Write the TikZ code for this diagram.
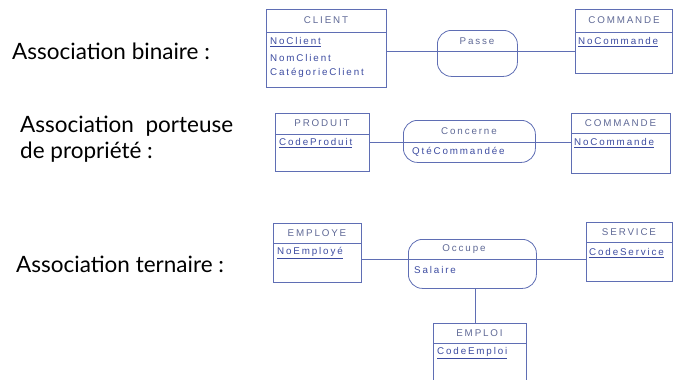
\documentclass[tikz,border=0pt]{standalone}
\usepackage{fontspec}
\setmainfont{Lato}
\newfontfamily\dg[LetterSpace=19]{Liberation Sans}
\usetikzlibrary{calc}
\definecolor{ln}{RGB}{95,110,180}
\definecolor{tx}{RGB}{60,75,160}
\definecolor{tt}{RGB}{95,105,150}
\begin{document}
\begin{tikzpicture}[x=1pt,y=-1pt,
  ent/.style={draw=ln, line width=0.8pt, anchor=north west, inner sep=0pt},
  asso/.style={draw=ln, line width=0.8pt, anchor=north west, inner sep=0pt, rounded corners=14pt},
  sepline/.style={draw=ln, line width=0.8pt},
  conn/.style={draw=ln, line width=0.8pt},
  ttl/.style={text=tt, font=\dg\fontsize{9.8}{10}\selectfont, inner sep=0pt},
  attr/.style={text=tx, font=\dg\fontsize{9.8}{10}\selectfont, inner sep=0pt, anchor=west},
  lbl/.style={text=black, font=\fontsize{22.5}{26}\selectfont, inner sep=0pt, anchor=west, align=left}]
\useasboundingbox (0,0) rectangle (675,380);

% left labels
\node[lbl] (l1) at (12,51) {Association binaire :};
\node[lbl] (l2) at (20,139) {Association\ \ porteuse\\de propriété :};
\node[lbl] (l3) at (16,264) {Association ternaire :};

% ---- row 1
\node[ent, minimum width=120, minimum height=78] (client) at (266,9) {};
\draw[sepline] (client.west |- 0,32) -- (client.east |- 0,32);
\node[ttl] (client-t) at (326,20.5) {CLIENT};
\node[attr] (client-a1) at (270,42) {\underline{NoClient}};
\node[attr] (client-a2) at (270,58) {NomClient};
\node[attr] (client-a3) at (270,73) {CatégorieClient};

\node[asso, minimum width=80, minimum height=46] (passe) at (437,30) {};
\coordinate (passe-s) at (477,51);
\draw[sepline] (passe-s -| passe.west) -- (passe-s -| passe.east);
\node[ttl] (passe-t) at (477,41) {Passe};

\node[ent, minimum width=97, minimum height=64] (cmd1) at (575,9) {};
\draw[sepline] (cmd1.west |- 0,32) -- (cmd1.east |- 0,32);
\node[ttl] (cmd1-t) at (624,20.5) {COMMANDE};
\node[attr] (cmd1-a1) at (578,42) {\underline{NoCommande}};

\draw[conn] (client.east |- passe-s) -- (passe-s -| passe.west);
\draw[conn] (passe-s -| passe.east) -- (passe-s -| cmd1.west);

% ---- row 2
\node[ent, minimum width=94, minimum height=58] (produit) at (275,113) {};
\draw[sepline] (produit.west |- 0,134) -- (produit.east |- 0,134);
\node[ttl] (produit-t) at (322,123.5) {PRODUIT};
\node[attr] (produit-a1) at (279,143) {\underline{CodeProduit}};

\node[asso, minimum width=132, minimum height=42] (concerne) at (403,120) {};
\coordinate (concerne-s) at (469,142);
\draw[sepline] (concerne-s -| concerne.west) -- (concerne-s -| concerne.east);
\node[ttl] (concerne-t) at (469,131) {Concerne};
\node[attr] (concerne-a1) at (412,152) {QtéCommandée};

\node[ent, minimum width=99, minimum height=60] (cmd2) at (571,113) {};
\draw[sepline] (cmd2.west |- 0,133) -- (cmd2.east |- 0,133);
\node[ttl] (cmd2-t) at (620.5,123) {COMMANDE};
\node[attr] (cmd2-a1) at (574,143) {\underline{NoCommande}};

\draw[conn] (produit.east |- concerne-s) -- (concerne-s -| concerne.west);
\draw[conn] (concerne-s -| concerne.east) -- (concerne-s -| cmd2.west);

% ---- row 3
\node[ent, minimum width=88, minimum height=59] (employe) at (273,223) {};
\draw[sepline] (employe.west |- 0,243) -- (employe.east |- 0,243);
\node[ttl] (employe-t) at (317,233) {EMPLOYE};
\node[attr] (employe-a1) at (277,253) {\underline{NoEmployé}};

\node[asso, minimum width=128, minimum height=49] (occupe) at (408,239) {};
\coordinate (occupe-s) at (473,259);
\draw[sepline] (occupe-s -| occupe.west) -- (occupe-s -| occupe.east);
\node[ttl] (occupe-t) at (464,249) {Occupe};
\node[attr] (occupe-a1) at (414,270) {Salaire};

\node[ent, minimum width=86, minimum height=59] (service) at (586,222) {};
\draw[sepline] (service.west |- 0,242) -- (service.east |- 0,242);
\node[ttl] (service-t) at (629,232) {SERVICE};
\node[attr] (service-a1) at (589,253) {\underline{CodeService}};

\node[ent, minimum width=93, minimum height=70] (emploi) at (433,323) {};
\draw[sepline] (emploi.west |- 0,343) -- (emploi.east |- 0,343);
\node[ttl] (emploi-t) at (479.5,333) {EMPLOI};
\node[attr] (emploi-a1) at (437,353) {\underline{CodeEmploi}};

\coordinate (vx) at (475,300);
\draw[conn] (employe.east |- occupe-s) -- (occupe-s -| occupe.west);
\draw[conn] (occupe-s -| occupe.east) -- (occupe-s -| service.west);
\draw[conn] (occupe.south -| vx) -- (emploi.north -| vx);
\end{tikzpicture}
\end{document}
